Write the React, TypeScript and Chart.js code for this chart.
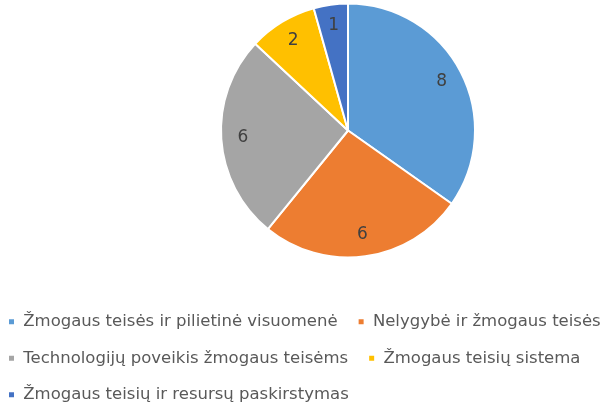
import React, { useEffect, useRef } from "react";
import { Chart, registerables } from "chart.js";

Chart.register(...registerables);

const categories = [
  "Žmogaus teisės ir pilietinė visuomenė",
  "Nelygybė ir žmogaus teisės",
  "Technologijų poveikis žmogaus teisėms",
  "Žmogaus teisių sistema",
  "Žmogaus teisių ir resursų paskirstymas",
];
const values = [8, 6, 6, 2, 1];
const colors = ["#5B9BD5", "#ED7D31", "#A5A5A5", "#FFC000", "#4472C4"];

const FONT = "'DejaVu Sans', sans-serif";
const PIE_CENTER_X = 348;
const PIE_CENTER_Y = 130.5;

const centerPlugin = {
  id: "pieCenter",
  afterLayout(chart: any) {
    const a = chart.chartArea;
    const w = a.right - a.left;
    const h = a.bottom - a.top;
    a.left = PIE_CENTER_X - w / 2;
    a.right = PIE_CENTER_X + w / 2;
    a.top = PIE_CENTER_Y - h / 2;
    a.bottom = PIE_CENTER_Y + h / 2;
  },
};

const labelPlugin = {
  id: "sliceLabels",
  afterDatasetsDraw(chart: any) {
    const ctx = chart.ctx;
    const meta = chart.getDatasetMeta(0);
    ctx.save();
    ctx.font = `17px ${FONT}`;
    ctx.fillStyle = "#404040";
    ctx.textAlign = "center";
    ctx.textBaseline = "middle";
    meta.data.forEach((arc: any, i: number) => {
      const p = arc.getProps(["x", "y", "startAngle", "endAngle", "outerRadius"], true);
      const mid = (p.startAngle + p.endAngle) / 2;
      const r = p.outerRadius * 0.83;
      ctx.fillText(String(values[i]), p.x + Math.cos(mid) * r, p.y + Math.sin(mid) * r);
    });
    ctx.restore();
  },
};

export default function App() {
  const ref = useRef<HTMLCanvasElement | null>(null);
  useEffect(() => {
    if (!ref.current) return;
    const chart = new Chart(ref.current, {
      type: "pie",
      data: {
        labels: categories,
        datasets: [
          {
            data: values,
            backgroundColor: colors,
            borderColor: "#ffffff",
            borderWidth: 2,
            radius: 127,
          },
        ],
      },
      options: {
        animation: false,
        responsive: false,
        layout: { padding: { left: -12, right: -104, top: 0, bottom: -3 } },
        plugins: {
          tooltip: { enabled: false },
          legend: {
            position: "bottom",
            align: "start",
            title: { display: true, text: " ", padding: { top: 18, bottom: 0 }, font: { size: 12, lineHeight: 1.2 } },
            labels: {
              boxWidth: 7,
              boxHeight: 7,
              padding: 20,
              color: "#595959",
              font: { size: 16.5, family: FONT },
            },
          },
        },
      },
      plugins: [centerPlugin, labelPlugin],
    });
    return () => chart.destroy();
  }, []);
  return (
    <div style={{ position: "fixed", left: 0, top: 0, width: 604, height: 410, background: "#fff" }}>
      <canvas ref={ref} width={604} height={410} style={{ display: "block" }} />
    </div>
  );
}
